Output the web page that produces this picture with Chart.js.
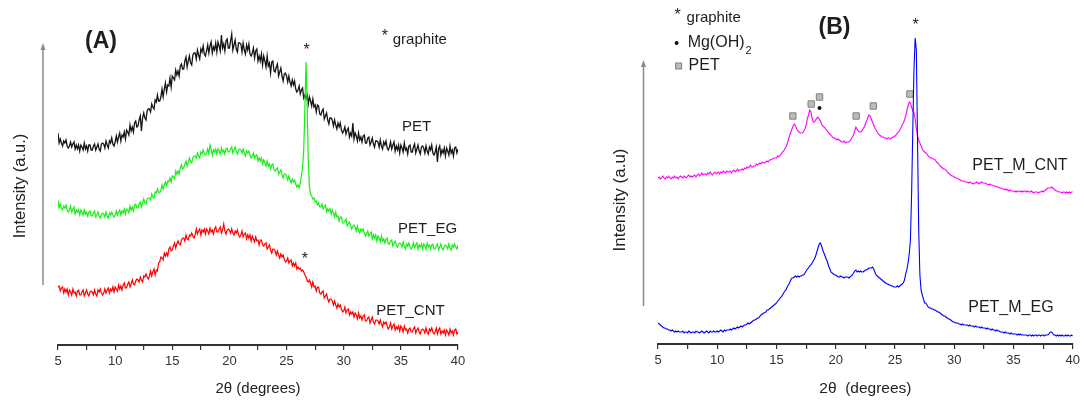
<!DOCTYPE html>
<html>
<head>
<meta charset="utf-8">
<title>XRD patterns</title>
<script src="https://cdn.jsdelivr.net/npm/chart.js@4.4.1/dist/chart.umd.min.js"></script>
<style>
  body { margin: 0; background: #fff; }
  #wrap { position: relative; width: 1084px; height: 400px; }
  #chartA { position: absolute; left: 0; top: 0; }
  #chartB { position: absolute; left: 540px; top: 0; }
</style>
</head>
<body>
<div id="wrap">
  <canvas id="chartA" width="540" height="400"></canvas>
  <canvas id="chartB" width="544" height="400"></canvas>
</div>
<script>
// scans go from 5 to 40 degrees, one reading every 0.1 degree
const SCAN_START = 5;
const SCAN_STEP = 0.1;
const xTicks = [5, 10, 15, 20, 25, 30, 35, 40];

// panel A (a.u., offset stacked)
const petA = [
  212,202,206,202,199,204,202,205,199,197,
  199,203,198,201,203,196,200,196,200,194,
  200,198,195,202,196,199,194,200,200,195,
  195,199,201,195,198,201,196,194,201,202,
  201,197,204,200,197,204,202,207,201,199,
  203,209,203,208,212,204,210,208,213,206,
  215,213,210,220,214,218,213,222,224,218,
  219,225,229,214,227,232,227,225,234,236,
  236,233,241,238,236,245,243,250,244,244,
  248,256,248,256,262,253,260,259,267,258,
  269,267,265,275,270,274,269,279,281,276,
  276,284,288,278,284,289,282,280,290,292,
  292,286,295,290,286,296,293,299,291,289,
  294,300,292,299,303,292,298,295,302,293,
  303,299,294,310,297,301,294,304,306,297,
  297,304,311,295,300,305,296,293,302,302,
  301,293,302,295,291,300,295,301,291,289,
  292,297,287,294,296,284,289,284,291,280,
  289,284,278,289,279,282,272,283,284,274,
  273,278,281,269,273,277,269,264,271,272,
  269,263,269,263,259,265,260,264,256,253,
  255,259,251,255,257,247,250,246,250,241,
  248,244,239,246,238,240,233,240,239,231,
  230,234,236,226,229,232,225,221,227,227,
  225,219,225,220,216,222,218,222,215,212,
  214,218,211,215,217,208,212,209,222,206,
  212,209,204,212,205,208,203,209,210,202,
  202,207,208,200,203,207,201,198,204,204,
  203,198,205,199,196,203,200,204,197,195,
  198,203,196,200,203,194,199,195,200,192,
  200,197,193,202,195,197,191,199,200,193,
  193,198,201,192,196,200,194,191,198,199,
  197,192,199,194,191,198,195,200,192,190,
  193,198,183,196,199,190,195,192,197,189,
  197,194,190,199,192,195,189,197,198,192,
  196
];
const petEG = [
  145,137,141,137,135,139,137,140,135,133,
  135,139,133,136,138,131,135,133,135,130,
  135,133,130,135,131,133,129,133,134,129,
  129,132,134,128,130,133,129,127,131,132,
  131,128,133,129,127,132,130,133,130,128,
  130,134,130,133,135,130,134,132,136,131,
  136,135,132,139,135,138,134,140,141,137,
  137,141,143,138,142,146,142,141,146,147,
  147,145,151,148,147,153,152,156,153,152,
  155,160,156,160,163,159,164,163,167,163,
  169,168,166,174,171,174,171,177,180,176,
  177,181,184,179,183,187,183,182,187,189,
  189,187,192,189,187,193,191,195,191,190,
  192,196,191,200,196,190,195,193,196,191,
  196,194,191,197,193,195,191,196,197,193,
  193,196,198,192,195,198,194,191,195,196,
  195,192,196,192,189,194,192,194,190,187,
  189,192,187,189,190,184,187,184,187,181,
  185,182,179,184,179,181,176,180,181,175,
  174,176,177,171,173,175,170,167,171,171,
  169,165,169,165,162,166,163,165,161,158,
  160,157,162,170,177,195,235,283,240,185,
  158,151,149,146,147,143,144,140,142,138,
  138,141,136,138,140,133,136,134,136,131,
  135,132,128,133,128,129,124,128,128,122,
  122,124,126,119,121,123,119,116,119,120,
  118,114,119,114,112,116,114,116,112,109,
  111,114,109,111,113,106,110,107,110,104,
  109,107,103,109,104,106,102,106,107,101,
  101,104,105,99,102,104,100,98,101,102,
  101,98,103,99,96,101,99,102,98,96,
  98,102,97,100,102,96,100,98,101,96,
  101,99,96,102,98,100,96,100,101,96,
  96,99,101,95,98,101,97,95,99,100,
  99,96,101,97,95,100,98,101,98,96,
  100
];
const petCNT = [
  58,59,54,57,58,52,56,53,56,50,
  55,53,50,56,52,53,49,54,55,50,
  50,53,55,49,52,55,51,49,53,54,
  53,50,55,51,49,55,53,56,52,50,
  52,56,52,55,57,52,56,54,58,53,
  58,56,54,60,56,59,55,60,62,57,
  57,61,63,58,61,65,61,60,64,66,
  65,63,68,65,63,69,68,71,68,66,
  69,74,69,73,76,70,75,74,82,83,
  88,87,85,92,89,92,89,96,98,94,
  95,99,102,97,101,104,101,100,105,107,
  107,104,110,106,105,110,109,112,109,107,
  110,116,111,114,116,110,115,113,116,111,
  116,114,111,117,113,115,111,116,118,113,
  113,116,118,112,115,121,114,111,115,116,
  115,112,116,112,110,114,112,115,110,108,
  110,114,108,111,112,106,110,107,110,104,
  109,106,103,108,104,105,100,105,105,100,
  99,101,102,96,98,100,95,92,96,96,
  94,90,94,90,87,91,88,90,86,83,
  84,87,82,84,85,79,82,79,82,76,
  78,76,77,74,75,73,70,68,64,63,
  65,62,58,63,58,59,54,58,58,52,
  51,53,54,47,49,51,46,43,46,46,
  44,40,44,40,37,41,38,40,36,33,
  34,38,32,35,36,30,33,31,33,28,
  32,30,26,32,27,29,25,29,30,24,
  24,27,28,22,25,28,23,21,25,25,
  24,21,25,21,18,23,21,23,19,16,
  18,22,16,19,21,15,18,16,19,14,
  19,17,13,19,15,16,12,16,17,13,
  13,16,18,12,15,17,13,11,15,16,
  15,12,17,13,11,16,14,17,13,11,
  13,17,11,15,17,11,14,12,15,10,
  15,13,10,16,12,14,10,15,16,11,
  13
];

// panel B
const petMCNT = [
  166,167,165,166,168,166,165,167,166,168,
  166,165,167,166,168,166,167,165,167,168,
  167,166,168,167,166,168,169,167,168,167,
  168,169,167,169,170,168,169,171,169,170,
  170,169,171,170,172,170,169,171,172,170,
  171,172,170,172,171,173,172,171,173,172,
  172,173,171,173,174,172,173,175,173,174,
  174,175,174,176,175,177,176,177,179,177,
  177,178,178,180,179,180,181,180,182,181,
  181,182,183,182,184,184,185,185,186,186,
  186,188,187,189,190,192,193,195,197,200,
  204,208,212,215,218,220,218,215,213,212,
  211,211,211,213,215,219,225,229,234,232,
  226,222,222,224,226,227,225,223,220,218,
  217,216,214,213,211,210,209,207,206,206,
  205,204,205,204,203,202,202,203,201,202,
  202,202,203,205,207,209,213,217,215,213,
  212,212,213,215,217,220,223,226,229,228,
  225,222,219,216,214,212,210,209,208,207,
  207,206,206,205,206,206,205,206,207,207,
  208,209,211,212,214,216,219,221,224,228,
  233,238,242,241,237,233,231,225,215,208,
  204,201,198,195,193,192,191,190,188,187,
  186,186,185,185,184,182,181,180,178,177,
  176,175,175,174,172,171,170,169,168,168,
  167,166,166,165,165,164,163,163,163,162,
  162,162,161,162,161,161,160,161,161,162,
  161,160,161,162,161,161,161,160,160,159,
  160,159,159,158,158,158,157,157,156,156,
  156,155,155,154,155,154,153,154,153,153,
  153,152,153,152,153,153,152,153,152,153,
  153,152,153,152,152,153,152,151,152,152,
  152,151,152,152,153,152,153,154,155,156,
  156,156,157,156,155,154,153,153,152,152,
  152,151,152,152,151,152,151,152,151,152,
  152
];
const petMEG = [
  21,20,19,18,17,16,16,15,15,14,
  14,13,14,13,12,13,12,13,12,12,
  12,13,11,12,12,11,13,12,11,12,
  12,11,13,12,12,11,12,13,12,11,
  12,13,12,11,13,12,12,13,12,12,
  13,12,13,14,13,12,14,13,14,14,
  14,15,14,15,16,15,16,17,16,17,
  18,17,18,19,19,20,21,20,21,22,
  23,24,24,25,26,26,28,29,30,31,
  31,32,34,34,35,36,37,38,39,40,
  41,43,44,46,47,49,51,53,54,57,
  59,61,64,66,66,67,68,67,68,67,
  68,68,69,69,71,73,75,76,78,79,
  81,83,85,88,92,96,100,101,98,94,
  91,88,85,82,78,75,72,71,70,69,
  69,68,67,67,68,67,67,66,67,67,
  67,66,67,68,69,71,73,74,72,73,
  72,73,72,72,73,74,74,75,76,76,
  76,77,75,72,69,68,67,66,65,64,
  63,62,61,60,60,59,59,58,58,57,
  57,57,58,57,58,59,60,61,64,70,
  74,81,90,104,150,214,274,306,294,204,
  114,69,54,49,45,41,41,39,37,36,
  36,35,35,34,34,33,32,32,31,30,
  29,28,28,27,26,25,25,24,23,22,
  22,21,21,21,20,20,19,20,19,19,
  19,19,18,19,18,18,18,17,18,17,
  17,17,16,17,16,16,16,15,16,15,
  15,14,15,14,14,13,14,13,13,12,
  12,12,11,12,11,11,11,10,11,10,
  10,10,10,9,10,9,10,9,9,9,
  9,9,8,9,9,8,9,8,9,9,
  8,9,9,8,9,9,8,9,9,9,
  10,12,12,11,9,9,8,9,8,9,
  8,9,8,8,9,8,9,8,8,9,
  8
];

// reflection markers in panel B
const petMarkX = [16.38, 17.93, 18.63, 21.72, 23.17, 26.26];
const petMarkY = [228, 240, 247, 228, 238, 250];
const mgMarkX = [18.63];
const mgMarkY = [236];

const FONT = "'Liberation Sans', Arial, Helvetica, sans-serif";

function scanPoints(values) {
  return values.map((v, i) => ({ x: Math.round((SCAN_START + i * SCAN_STEP) * 10) / 10, y: v }));
}

function markPoints(xs, ys) {
  return xs.map((x, i) => ({ x: x, y: ys[i] }));
}

function lineSet(values, color, width) {
  return {
    data: scanPoints(values),
    borderColor: color,
    borderWidth: width,
    pointRadius: 0,
    tension: 0,
    fill: false,
  };
}

// arrow, rotated y title and text notes
function makeDecorations(cfg) {
  return {
    id: "decorations",
    afterDraw(chart) {
      const ctx = chart.ctx;
      const sx = chart.scales.x;
      const sy = chart.scales.y;
      ctx.save();

      const a = cfg.arrow;
      ctx.strokeStyle = "#8a8a8a";
      ctx.fillStyle = "#8a8a8a";
      ctx.lineWidth = 1.5;
      ctx.beginPath();
      ctx.moveTo(a.x, a.bottom);
      ctx.lineTo(a.x, a.top + 5);
      ctx.stroke();
      ctx.beginPath();
      ctx.moveTo(a.x, a.top);
      ctx.lineTo(a.x - 2.5, a.top + 7);
      ctx.lineTo(a.x + 2.5, a.top + 7);
      ctx.closePath();
      ctx.fill();

      ctx.save();
      ctx.translate(cfg.yTitle.x, cfg.yTitle.y);
      ctx.rotate(-Math.PI / 2);
      ctx.font = cfg.yTitle.size + "px " + FONT;
      ctx.fillStyle = "#222";
      ctx.textAlign = "center";
      ctx.textBaseline = "middle";
      ctx.fillText(cfg.yTitle.text, 0, 0);
      ctx.restore();

      ctx.textBaseline = "middle";
      cfg.notes.forEach((n) => {
        const px = sx.getPixelForValue(n.x);
        const py = sy.getPixelForValue(n.y);
        ctx.font = (n.bold ? "bold " : "") + n.size + "px " + FONT;
        ctx.fillStyle = "#1e1e1e";
        ctx.textAlign = n.align || "center";
        ctx.fillText(n.text, px, py);
        if (n.sub) {
          const w = ctx.measureText(n.text).width;
          ctx.font = Math.round(n.size * 0.68) + "px " + FONT;
          ctx.textAlign = "left";
          ctx.fillText(n.sub, px + w + 1, py + 8);
        }
      });

      (cfg.symbols || []).forEach((s) => {
        const px = sx.getPixelForValue(s.x);
        const py = sy.getPixelForValue(s.y);
        if (s.kind === "dot") {
          ctx.fillStyle = "#111";
          ctx.beginPath();
          ctx.arc(px, py, 2, 0, Math.PI * 2);
          ctx.fill();
        } else {
          ctx.fillStyle = "#bcbcbc";
          ctx.strokeStyle = "#808080";
          ctx.lineWidth = 1;
          ctx.fillRect(px - 3, py - 3, 6, 6);
          ctx.strokeRect(px - 3, py - 3, 6, 6);
        }
      });
      ctx.restore();
    },
  };
}

function xAxis(axisHeight, titleText, titleSize) {
  return {
    type: "linear",
    min: 5,
    max: 40,
    offset: false,
    afterFit: (scale) => {
      scale.height = axisHeight;
    },
    ticks: {
      stepSize: 2.5,
      autoSkip: false,
      maxRotation: 0,
      padding: 4,
      color: "#333",
      font: { family: FONT, size: 13 },
      callback: (v) => (v % 5 === 0 ? v : ""),
    },
    grid: {
      drawOnChartArea: false,
      drawTicks: true,
      tickLength: 5,
      color: "#333",
      lineWidth: 1.2,
    },
    border: { display: true, color: "#333", width: 2 },
    title: {
      display: true,
      text: titleText,
      color: "#222",
      font: { family: FONT, size: titleSize },
      padding: { top: 0, bottom: 2 },
    },
  };
}

const commonPlugins = {
  legend: { display: false },
  tooltip: { enabled: false },
};

new Chart(document.getElementById("chartA"), {
  type: "line",
  data: {
    datasets: [
      lineSet(petEG, "#18ee18", 1.2),
      lineSet(petA, "#151515", 1.3),
      lineSet(petCNT, "#ff0000", 1.2),
    ],
  },
  options: {
    responsive: false,
    animation: false,
    events: [],
    layout: { padding: { left: 58, right: 82, top: 20, bottom: 0 } },
    scales: {
      x: xAxis(55, "2\u03b8 (degrees)", 15),
      y: { display: false, min: 0, max: 325 },
    },
    plugins: commonPlugins,
  },
  plugins: [
    makeDecorations({
      arrow: { x: 43, top: 43, bottom: 285 },
      yTitle: { text: "Intensity (a.u.)", x: 20, y: 186, size: 16.5 },
      notes: [
        { text: "(A)", x: 8.76, y: 303, size: 23, bold: true },
        { text: "*", x: 33.59, y: 308, size: 16 },
        { text: "graphite", x: 34.29, y: 305, size: 15, align: "left" },
        { text: "*", x: 26.76, y: 294, size: 16 },
        { text: "*", x: 26.6, y: 85, size: 16 },
        { text: "PET", x: 36.37, y: 218, size: 15 },
        { text: "PET_EG", x: 37.33, y: 116, size: 15 },
        { text: "PET_CNT", x: 35.84, y: 34, size: 15 },
      ],
    }),
  ],
});

new Chart(document.getElementById("chartB"), {
  type: "line",
  data: {
    datasets: [
      lineSet(petMEG, "#0000ff", 1.1),
      lineSet(petMCNT, "#ff00ff", 1.1),
      {
        data: markPoints(petMarkX, petMarkY),
        showLine: false,
        pointStyle: "rect",
        pointRadius: 4.5,
        pointBackgroundColor: "#bcbcbc",
        pointBorderColor: "#808080",
        pointBorderWidth: 1,
      },
      {
        data: markPoints(mgMarkX, mgMarkY),
        showLine: false,
        pointStyle: "circle",
        pointRadius: 2,
        pointBackgroundColor: "#111",
        pointBorderColor: "#111",
        pointBorderWidth: 0,
      },
    ],
  },
  options: {
    responsive: false,
    animation: false,
    events: [],
    layout: { padding: { left: 118, right: 10, top: 10, bottom: 0 } },
    scales: {
      x: xAxis(56, "2\u03b8  (degrees)", 15.5),
      y: { display: false, min: 0, max: 334 },
    },
    plugins: commonPlugins,
  },
  plugins: [
    makeDecorations({
      arrow: { x: 103.5, top: 60, bottom: 306 },
      yTitle: { text: "Intensity (a.u)", x: 80, y: 200, size: 17 },
      notes: [
        { text: "(B)", x: 19.89, y: 316, size: 23, bold: true },
        { text: "*", x: 6.66, y: 328, size: 16 },
        { text: "graphite", x: 7.41, y: 326, size: 15, align: "left" },
        { text: "Mg(OH)", x: 7.5, y: 301, size: 16, align: "left", sub: "2" },
        { text: "PET", x: 7.58, y: 278, size: 16, align: "left" },
        { text: "*", x: 26.74, y: 318, size: 16 },
        { text: "PET_M_CNT", x: 35.54, y: 178, size: 16 },
        { text: "PET_M_EG", x: 34.78, y: 36, size: 16 },
      ],
      symbols: [
        { kind: "dot", x: 6.57, y: 301 },
        { kind: "square", x: 6.74, y: 278 },
      ],
    }),
  ],
});
</script>
</body>
</html>
